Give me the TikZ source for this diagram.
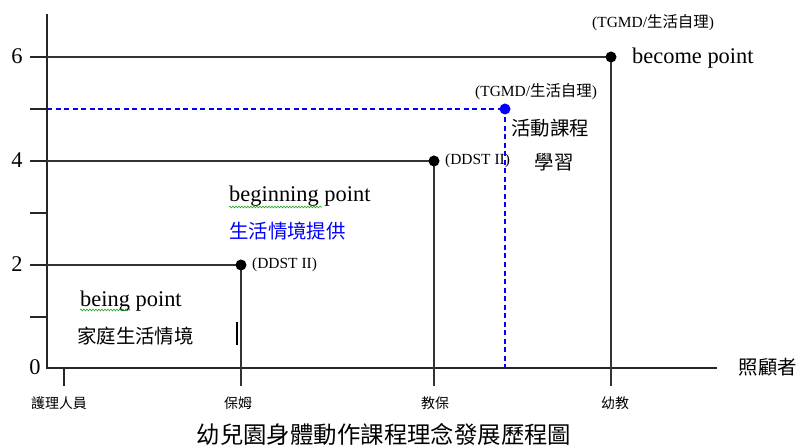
\documentclass[tikz,border=0pt]{standalone}
\usepackage{fontspec}
\setmainfont{Liberation Serif}
\newfontfamily\cjk{Noto Sans CJK TC}
\usepackage{tikz}
\usetikzlibrary{positioning}
\usetikzlibrary{decorations.pathmorphing}
\definecolor{planblue}{RGB}{0,0,255}
\definecolor{spellgreen}{RGB}{40,160,40}

\begin{document}
\begin{tikzpicture}[
    x=1bp, y=-1bp,
    axis line/.style={line width=1.3bp, black!85},
    level line/.style={line width=1.2bp, black!80},
    plan line/.style={line width=1.3bp, planblue, dash pattern=on 5bp off 3.5bp},
    stage dot/.style={circle, fill=black, inner sep=0pt, minimum size=11bp},
    plan dot/.style={circle, fill=planblue, inner sep=0pt, minimum size=11bp},
    big label/.style={inner sep=0pt, font=\fontsize{22.5}{25}\selectfont},
    tag label/.style={inner sep=0pt, font=\fontsize{15.5}{18}\selectfont},
    cjk label/.style={inner sep=0pt, font=\cjk\fontsize{19.5}{22}\selectfont},
    role label/.style={inner sep=0pt, font=\cjk\fontsize{14}{16}\selectfont},
    spell mark/.style={spellgreen, line width=0.6bp,
        decorate, decoration={snake, amplitude=0.9bp, segment length=3bp}}
  ]
  \useasboundingbox (0,0) rectangle (798,448);

  % axes
  \coordinate (origin) at (47,368);
  \coordinate (ytop) at (47,14);
  \coordinate (xend) at (717,368);
  \draw[axis line] (ytop) -- (origin) -- (xend);

  \foreach \lv/\yy in {1/317,2/265,3/213,4/161,5/109,6/57}
    \draw[axis line] (30,\yy) coordinate (tick\lv) -- (47,\yy) coordinate (ax\lv);

  \node[big label, anchor=base] (lab6) at (17,64) {6};
  \node[big label, anchor=base] (lab4) at (17,168) {4};
  \node[big label, anchor=base] (lab2) at (17,272) {2};
  \node[big label, anchor=base] (lab0) at (35,375) {0};

  % carers on the x axis
  \coordinate (c1) at (64,368);   \coordinate (t1) at (64,386);
  \coordinate (c2) at (241,265);  \coordinate (t2) at (241,386);
  \coordinate (c4) at (434,161);  \coordinate (t4) at (434,386);
  \coordinate (c6) at (611,57);   \coordinate (t6) at (611,386);
  \coordinate (c5) at (505,109);  \coordinate (b5) at (505,368);

  \draw[axis line] (c1) -- (t1);
  \draw[level line] (ax2) -- (c2) -- (t2);
  \draw[level line] (ax4) -- (c4) -- (t4);
  \draw[level line] (ax6) -- (c6) -- (t6);
  \draw[plan line] (ax5) -- (c5);
  \draw[plan line] (c5) -- (b5);

  \node[stage dot] (p2) at (c2) {};
  \node[stage dot] (p4) at (c4) {};
  \node[stage dot] (p6) at (c6) {};
  \node[plan dot] (p5) at (c5) {};

  \node[role label] (r1) at (59,403) {護理人員};
  \node[role label] (r2) at (238,403) {保姆};
  \node[role label] (r4) at (435,403) {教保};
  \node[role label] (r6) at (615,403) {幼教};
  \node[cjk label] (carer) at (768,367) {照顧者};

  % labels at the points
  \node[tag label, anchor=west] (tag2) at (252,265) {(DDST II)};
  \node[tag label, anchor=west] (tag4) at (445,161) {(DDST II)};
  \node[tag label, anchor=west] (tag5) at (475,92) {(TGMD/{\cjk 生活自理})};
  \node[tag label, anchor=west] (tag6) at (592,23) {(TGMD/{\cjk 生活自理})};

  \node[big label, anchor=base west] (become) at (632,64) {become point};
  \node[cjk label] (course) at (550,128) {活動課程};
  \node[cjk label] (learn) at (554,162) {學習};

  \node[big label, anchor=base west] (beginning) at (229,202) {beginning point};
  \node[cjk label, planblue, anchor=west] (daily) at (229,231) {生活情境提供};

  \node[big label, anchor=base west] (being) at (80,307) {being point};
  \node[cjk label, anchor=west] (home) at (77,336) {家庭生活情境};

  \draw[spell mark] (beginning.base west) ++(0,5) -- ++(93,0);
  \draw[spell mark] (being.base west) ++(0,3) -- ++(50,0);
  \draw[line width=2bp] (237,322) -- (237,345);

  \node[inner sep=0pt, font=\cjk\fontsize{23.5}{26}\selectfont] (title) at (384,434)
    {幼兒園身體動作課程理念發展歷程圖};

\end{tikzpicture}
\end{document}
